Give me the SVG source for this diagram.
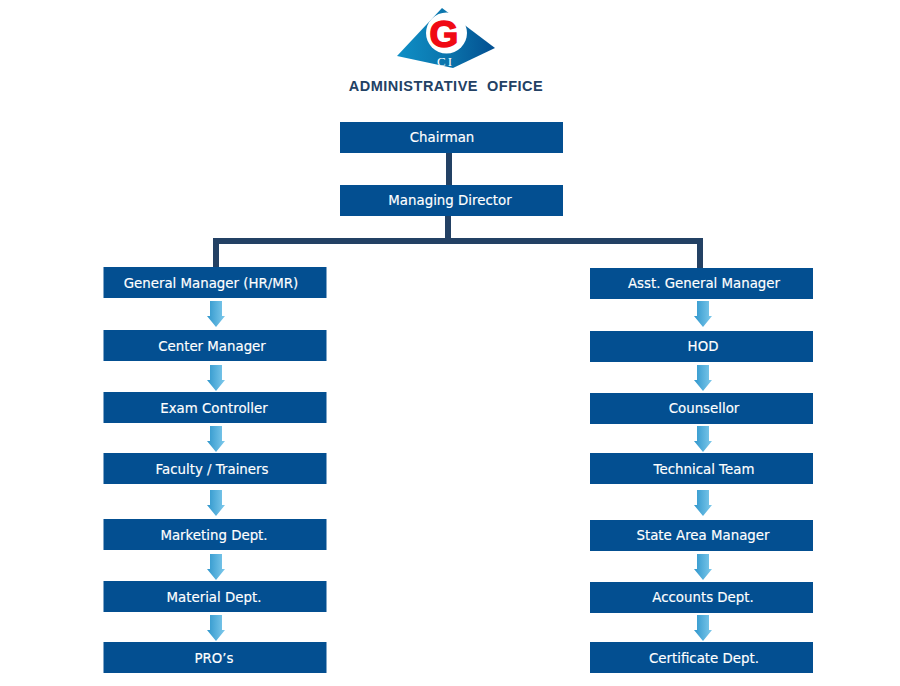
<svg xmlns="http://www.w3.org/2000/svg" width="900" height="686" viewBox="0 0 900 686">
<style>
.box{fill:#034f91}
.t{font:13.35px "DejaVu Sans",Verdana,sans-serif;fill:#fff;stroke:#fff;stroke-width:0.15;text-anchor:middle}
.c{fill:#234164}
</style>
<defs>
<linearGradient id="ag" x1="0" x2="1" y1="0" y2="0"><stop offset="0" stop-color="#2f96cc"/><stop offset="1" stop-color="#7fcaec"/></linearGradient>
<linearGradient id="lg" x1="0" x2="1" y1="0" y2="0"><stop offset="0" stop-color="#0f8fc6"/><stop offset="0.55" stop-color="#0a72aa"/><stop offset="1" stop-color="#034f91"/></linearGradient>
<path id="arrow" d="M-6 0H6V15H9L0 26L-9 15H-6Z" fill="url(#ag)"/>
</defs>
<rect width="900" height="686" fill="#fff"/>
<g id="logo">
<path d="M442 8L397 56L453 68L495 48Z" fill="url(#lg)"/>
<circle cx="446.500" cy="33" r="20.500" fill="#fff"/>
<text x="444" y="47" font-family="Liberation Sans,sans-serif" font-weight="bold" font-size="37" fill="#f00a14" stroke="#f00a14" stroke-width="1.500" text-anchor="middle">G</text>
<text x="445.500" y="66" font-family="Liberation Serif,serif" font-size="13" fill="#fff" text-anchor="middle" letter-spacing="2">CI</text>
</g>
<text id="title" x="446" y="91" font-family="Liberation Sans,sans-serif" font-weight="bold" font-size="14.500" letter-spacing="0.500" fill="#234164" text-anchor="middle" xml:space="preserve">ADMINISTRATIVE  OFFICE</text>
<g id="connectors">
<rect class="c" x="446" y="153" width="6" height="32"/>
<rect class="c" x="445" y="216" width="6" height="24"/>
<rect class="c" x="213" y="238" width="490" height="6"/>
<rect class="c" x="213" y="238" width="6" height="29"/>
<rect class="c" x="697" y="238" width="6" height="30"/>
<use href="#arrow" x="216" y="301"/><use href="#arrow" x="216" y="365"/><use href="#arrow" x="216" y="426"/><use href="#arrow" x="216" y="490"/><use href="#arrow" x="216" y="554"/><use href="#arrow" x="216" y="615"/>
<use href="#arrow" x="703" y="301"/><use href="#arrow" x="703" y="365"/><use href="#arrow" x="703" y="426"/><use href="#arrow" x="703" y="490"/><use href="#arrow" x="703" y="554"/><use href="#arrow" x="703" y="615"/>
</g>
<g id="chairman"><rect class="box" x="340" y="122" width="223" height="31"/><text class="t" x="442" y="142">Chairman</text></g>
<g id="md"><rect class="box" x="340" y="185" width="223" height="31"/><text class="t" x="450" y="205">Managing Director</text></g>
<g id="gm"><rect class="box" x="103.500" y="267" width="223" height="31"/><text class="t" x="211" y="288">General Manager (HR/MR)</text></g>
<g id="center"><rect class="box" x="103.500" y="330" width="223" height="31"/><text class="t" x="212" y="351">Center Manager</text></g>
<g id="exam"><rect class="box" x="103.500" y="392" width="223" height="31"/><text class="t" x="214" y="413">Exam Controller</text></g>
<g id="faculty"><rect class="box" x="103.500" y="453" width="223" height="31"/><text class="t" x="212" y="474">Faculty / Trainers</text></g>
<g id="marketing"><rect class="box" x="103.500" y="519" width="223" height="31"/><text class="t" x="214" y="540">Marketing Dept.</text></g>
<g id="material"><rect class="box" x="103.500" y="581" width="223" height="31"/><text class="t" x="214" y="602">Material Dept.</text></g>
<g id="pro"><rect class="box" x="103.500" y="642" width="223" height="31"/><text class="t" x="214" y="663">PRO’s</text></g>
<g id="agm"><rect class="box" x="590" y="268" width="223" height="31"/><text class="t" x="704" y="288">Asst. General Manager</text></g>
<g id="hod"><rect class="box" x="590" y="331" width="223" height="31"/><text class="t" x="703" y="351">HOD</text></g>
<g id="counsellor"><rect class="box" x="590" y="393" width="223" height="31"/><text class="t" x="704" y="413">Counsellor</text></g>
<g id="tech"><rect class="box" x="590" y="453" width="223" height="31"/><text class="t" x="704" y="474">Technical Team</text></g>
<g id="state"><rect class="box" x="590" y="520" width="223" height="31"/><text class="t" x="703" y="540">State Area Manager</text></g>
<g id="accounts"><rect class="box" x="590" y="582" width="223" height="31"/><text class="t" x="703" y="602">Accounts Dept.</text></g>
<g id="cert"><rect class="box" x="590" y="642" width="223" height="31"/><text class="t" x="704" y="663">Certificate Dept.</text></g>
</svg>
